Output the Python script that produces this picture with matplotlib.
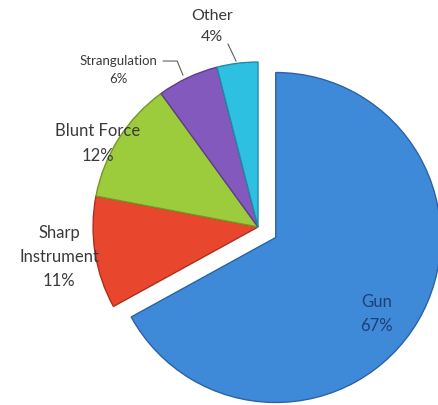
import matplotlib.pyplot as plt

# causes of death, share of cases (%)
causes = ['Gun', 'Sharp\nInstrument', 'Blunt Force', 'Strangulation', 'Other']
shares = [67, 11, 12, 6, 4]
colors = ['#3f8ad8', '#e8472e', '#9ccb3b', '#8459bd', '#2ec0e0']
edges = ['#2a62a8', '#b02e1d', '#76962a', '#5c3f8a', '#1f8aa8']

plt.rcParams['font.family'] = ['Lato', 'DejaVu Sans']

fig = plt.figure(figsize=(4.38, 4.06), dpi=100)
ax = fig.add_axes([0, 0, 1, 1])

wedges, _ = ax.pie(shares, startangle=90, counterclock=False, radius=1,
                   explode=[0.125, 0, 0, 0, 0], colors=colors,
                   wedgeprops=dict(linewidth=1.0))
for w, ec in zip(wedges, edges):
    w.set_edgecolor(ec)

ax.set_xlim(-1.564, 1.091)
ax.set_ylim(-1.079, 1.382)
ax.set_aspect('equal')
ax.axis('off')

def lbl(i):
    return '{}\n{}%'.format(causes[i], shares[i])

txt = dict(ha='center', va='center', color='#3a3a3a', linespacing=1.65)
ax.text(0.72, -0.52, lbl(0), fontsize=12, color='#1f3f73',
        ha='center', va='center', linespacing=1.6)
ax.text(-1.206, -0.176, lbl(1), fontsize=12, **txt)
ax.text(-0.970, 0.512, lbl(2), fontsize=12, **txt)
ax.text(-0.848, 0.958, lbl(3), fontsize=9.5, **txt)
ax.text(-0.279, 1.221, lbl(4), fontsize=11.5, **txt)

# leader lines for the two small slices
ax.plot([-0.182, -0.133], [1.109, 1.006], color='#606060', lw=0.8)
ax.plot([-0.575, -0.490, -0.455], [1.006, 1.006, 0.921], color='#606060', lw=0.8)

fig.savefig('out.png', dpi=100)
